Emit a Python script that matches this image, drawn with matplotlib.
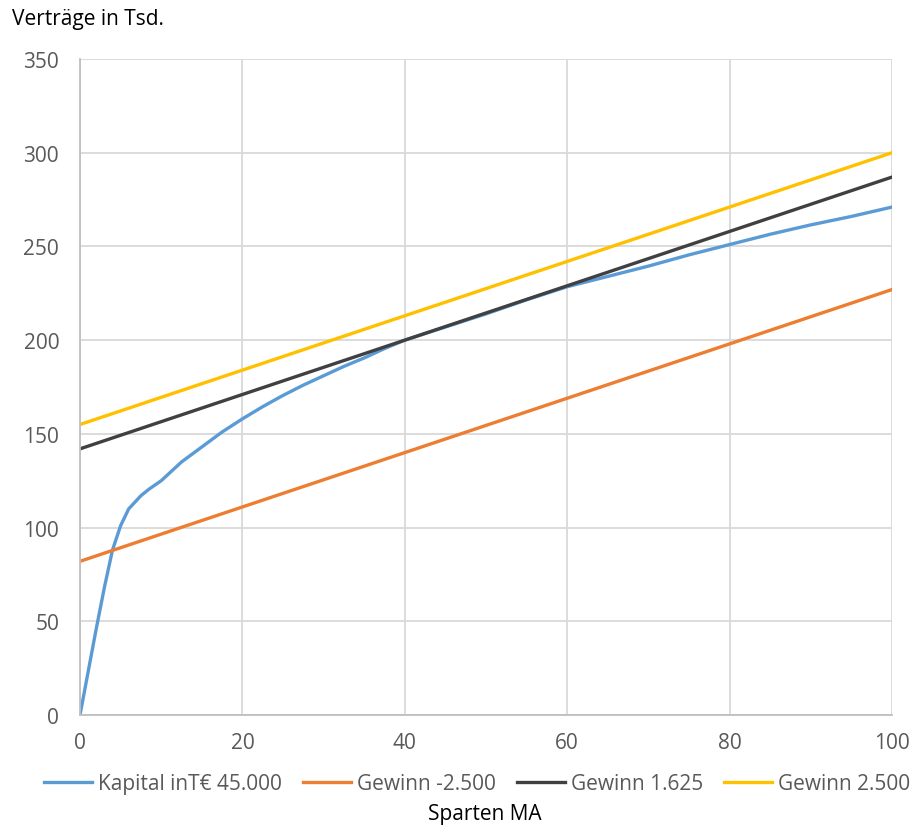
import numpy as np
import matplotlib.pyplot as plt

plt.rcParams['font.family'] = ['Open Sans', 'DejaVu Sans']

# Kapital in T€ 45.000 (Kurve)
kap_x = [0, 1, 2, 3, 4, 5, 6, 7.5, 8.5, 10, 11, 12.5, 15, 17.5, 20, 22.5, 25, 27.5, 30,
         32.5, 35, 37.5, 40, 45, 50, 55, 60, 65, 70, 75, 80, 85, 90, 95, 100]
kap_y = [0, 23, 46, 68, 88, 101, 110, 117, 120.5, 125, 129, 135, 143, 151, 158, 164.5,
         170.5, 176, 181, 186, 190.5, 195.5, 200, 207, 214, 221.5, 228.5, 234, 239.5,
         245.5, 251, 256.5, 261.5, 266, 271]

# Geraden
gew_x = [0, 100]
gew_neg = [82, 227]      # Gewinn -2.500
gew_1625 = [142, 287]    # Gewinn 1.625
gew_2500 = [155, 300]    # Gewinn 2.500

labels = ['Kapital inT€ 45.000', 'Gewinn -2.500', 'Gewinn 1.625', 'Gewinn 2.500']
colors = ['#5B9BD5', '#ED7D31', '#404040', '#FFC000']

fig = plt.figure(figsize=(9.13, 8.29), dpi=100)
ax = fig.add_axes([80/913, 1-716/829, (892-80)/913, (716-60)/829])

lw = 2.4
ax.plot(kap_x, kap_y, color=colors[0], lw=lw, label=labels[0], solid_joinstyle='round')
ax.plot(gew_x, gew_neg, color=colors[1], lw=lw, label=labels[1])
ax.plot(gew_x, gew_1625, color=colors[2], lw=lw, label=labels[2])
ax.plot(gew_x, gew_2500, color=colors[3], lw=lw, label=labels[3])

ax.set_xlim(0, 100)
ax.set_ylim(0, 350)
ax.set_xticks(np.arange(0, 101, 20))
ax.set_yticks(np.arange(0, 351, 50))
ax.grid(True, color='#d9d9d9', lw=1.3)
ax.set_axisbelow(True)
for s in ['top', 'right']:
    ax.spines[s].set_visible(False)
for s in ['left', 'bottom']:
    ax.spines[s].set_color('#bfbfbf')
    ax.spines[s].set_linewidth(1.3)
ax.tick_params(axis='both', length=0, labelsize=15, labelcolor='#595959')
ax.tick_params(axis='y', pad=15)
ax.tick_params(axis='x', pad=12)

fig.text(12/913, 1-20/829, 'Verträge in Tsd.', fontsize=15, va='center', ha='left', color='black')
fig.text(485/913, 1-815/829, 'Sparten MA', fontsize=15, va='center', ha='center', color='black')

fig.legend(loc='center', bbox_to_anchor=(477/913, 1-785/829), ncol=4, frameon=False,
           fontsize=15, handlelength=2.3, columnspacing=1.0, handletextpad=0.3,
           labelcolor='#595959')

fig.savefig('out.png', dpi=100)
